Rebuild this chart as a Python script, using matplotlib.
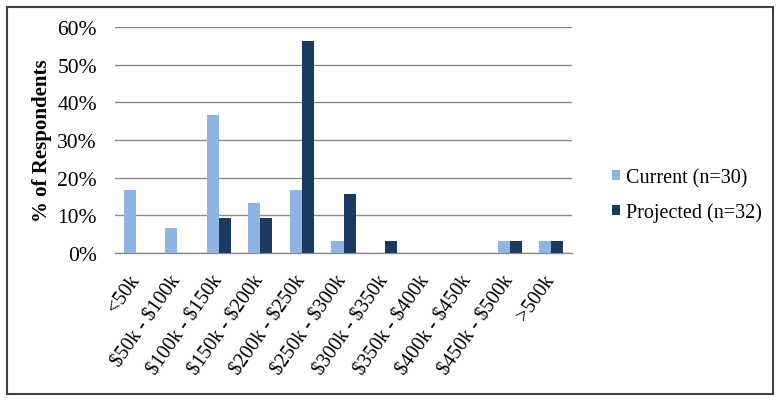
import matplotlib
matplotlib.use("Agg")
import matplotlib.pyplot as plt
import numpy as np
from matplotlib.patches import Rectangle

categories = ["<50k", "$50k - $100k", "$100k - $150k", "$150k - $200k", "$200k - $250k",
              "$250k - $300k", "$300k - $350k", "$350k - $400k", "$400k - $450k",
              "$450k - $500k", ">500k"]
current = [16.7, 6.7, 36.7, 13.3, 16.7, 3.3, 0, 0, 0, 3.3, 3.3]
projected = [0, 0, 9.4, 9.4, 56.3, 15.6, 3.1, 0, 0, 3.1, 3.1]
series_names = ["Current (n=30)", "Projected (n=32)"]
yticks = [0, 10, 20, 30, 40, 50, 60]

plt.rcParams['font.family'] = ['Liberation Serif', 'DejaVu Serif']
plt.rcParams['mathtext.default'] = 'regular'

fig = plt.figure(figsize=(7.82, 4.02), dpi=100)
ax = fig.add_axes([115/782, 1-254/402, (572-115)/782, (254-28)/402])

x = np.arange(len(categories))
w = 0.29
c1 = "#8DB4E2"
c2 = "#1B3A62"
ax.bar(x - w/2, current, w, color=c1, label=series_names[0], zorder=3)
ax.bar(x + w/2, projected, w, color=c2, label=series_names[1], zorder=3)

ax.set_xlim(-0.5, len(categories) - 0.5)
ax.set_ylim(0, 60)
ax.set_yticks(yticks)
ax.set_yticklabels([f"{t}%" for t in yticks], fontsize=15.5)
ax.yaxis.grid(True, color="#8C8C8C", linewidth=1.0, zorder=0)
ax.set_axisbelow(True)
for s in ["left", "right", "top"]:
    ax.spines[s].set_visible(False)
ax.spines["bottom"].set_color("#8C8C8C")
ax.spines["bottom"].set_linewidth(1.0)
ax.tick_params(axis="both", length=0)
ax.tick_params(axis="y", pad=13)
ax.set_xticks(x)
labels = [c.replace("$", r"\$") for c in categories]
ax.set_xticklabels(labels, rotation=55, ha="right", va="center",
                   rotation_mode="anchor", fontsize=14.5)
ax.tick_params(axis="x", pad=17)
ax.set_ylabel("% of Respondents", fontsize=15, fontweight="bold")
ax.yaxis.set_label_coords((52 - 115) / 457, 0.5)

leg = fig.legend(loc="center left", bbox_to_anchor=(612/782, 1-196/402), frameon=False,
                 fontsize=14.5, handlelength=0.42, handleheight=0.42, handletextpad=0.3,
                 labelspacing=0.75, borderpad=0, borderaxespad=0)

fig.patches.append(Rectangle((7/782, 7/402), (773-7)/782, (394-7)/402,
                             transform=fig.transFigure, fill=False,
                             edgecolor="#404040", linewidth=1.5))

fig.savefig("out.png", dpi=100)
